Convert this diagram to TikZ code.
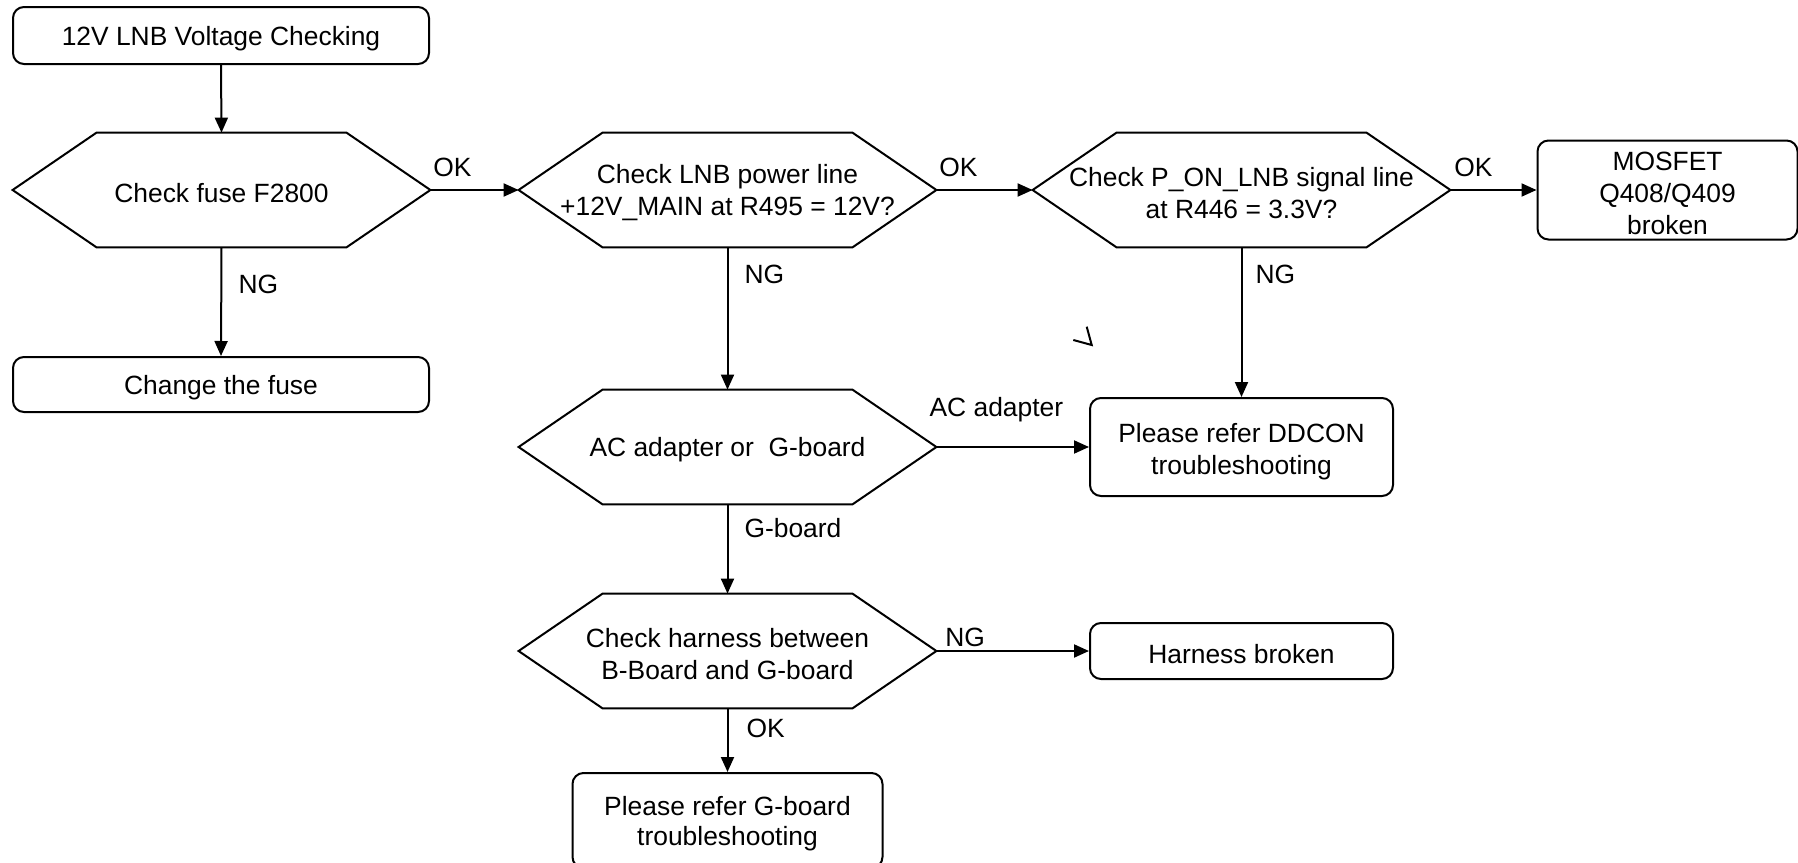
\documentclass[tikz,border=0pt]{standalone}
\usepackage{fontspec}
\setmainfont{Liberation Sans}
\usetikzlibrary{arrows.meta}
\newcommand\hexo[1]{\draw[line] (#1.west) -- ([xshift=42pt]#1.north west) -- ([xshift=-42pt]#1.north east) -- (#1.east) -- ([xshift=-42pt]#1.south east) -- ([xshift=42pt]#1.south west) -- cycle;}
\newcommand\ts{\rule{0pt}{12.6pt}}
\tikzset{
  line/.style={line width=1pt, line join=miter},
  txt/.style={font=\fontsize{13.2pt}{16pt}\selectfont, align=center, inner sep=0pt},
  rbox/.style={txt, draw, line width=1pt, rounded corners=5.5pt},
  hexa/.style={txt, minimum width=208.5pt, minimum height=57pt},
  arr/.style={line, -{Triangle[length=7.5pt,width=6.5pt]}},
  lbl/.style={font=\fontsize{13.2pt}{15pt}\selectfont, inner sep=0pt},
}
\begin{document}
\begin{tikzpicture}[x=0.5pt,y=-0.5pt]
\useasboundingbox (0,0) rectangle (1798,862);
% boxes
\node[rbox, minimum width=208pt, minimum height=28.5pt] (start) at (221,35.5) {\ts 12V LNB Voltage Checking};
\node[hexa] (h1) at (221.5,190) {\ts Check fuse F2800};
\node[hexa] (h2) at (727.5,190) {\ts Check LNB power line\\+12V\_MAIN at R495 = 12V?};
\node[hexa] (h3) at (1241.5,190) {\ts Check P\_ON\_LNB signal line\\at R446 = 3.3V?};
\node[rbox, minimum width=130pt, minimum height=49.5pt] (mos) at (1667.5,190) {\ts MOSFET\\Q408/Q409\\broken};
\node[rbox, minimum width=208pt, minimum height=27.5pt] (fuse) at (221,384.5) {\ts Change the fuse};
\node[hexa] (h4) at (727.5,447) {\ts AC adapter or\ \ G-board};
\node[rbox, minimum width=151.5pt, minimum height=49pt] (ddcon) at (1241.5,447) {\rule{0pt}{14pt}Please refer DDCON\\troubleshooting};
\node[hexa] (h5) at (727.5,651) {\ts Check harness between\\B-Board and G-board};
\node[rbox, minimum width=151.5pt, minimum height=28pt] (harn) at (1241.5,651) {\ts Harness broken};
\node[rbox, font=\fontsize{13.2pt}{15pt}\selectfont, minimum width=155pt, minimum height=47.5pt] (gb) at (727.5,820.5) {\ts Please refer G-board\\troubleshooting};
\hexo{h1}\hexo{h2}\hexo{h3}\hexo{h4}\hexo{h5}
% connectors
\draw[arr] (start.south) -- (h1.north);
\draw[arr] (h1.east) -- node[lbl, pos=0, anchor=base west, xshift=1pt, yshift=7pt] {OK} (h2.west);
\draw[arr] (h2.east) -- node[lbl, pos=0, anchor=base west, xshift=1pt, yshift=7pt] {OK} (h3.west);
\draw[arr] (h3.east) -- node[lbl, pos=0, anchor=base west, xshift=1.5pt, yshift=7pt] {OK} (mos.west);
\draw[arr] (h1.south) -- node[lbl, pos=0, anchor=base west, xshift=8pt, yshift=-23pt] {NG} (fuse.north);
\draw[arr] (h2.south) -- node[lbl, pos=0, anchor=base west, xshift=8pt, yshift=-18pt] {NG} (h4.north);
\draw[arr] (h3.south) -- node[lbl, pos=0, anchor=base west, xshift=6.5pt, yshift=-18pt] {NG} (ddcon.north);
\draw[arr] (h4.east) -- node[lbl, pos=0, anchor=base, xshift=30pt, yshift=15.5pt] {AC adapter} (ddcon.west);
\draw[arr] (h4.south) -- node[lbl, pos=0, anchor=base west, xshift=8pt, yshift=-16.5pt] {G-board} (h5.north);
\draw[arr] (h5.east) -- node[lbl, pos=0, anchor=base west, xshift=4pt, yshift=2.5pt] {NG} (harn.west);
\draw[arr] (h5.south) -- node[lbl, pos=0, anchor=base west, xshift=9pt, yshift=-14.5pt] {OK} (gb.north);
% stray mark
\draw[line] (1086.7,326.7) -- (1091.7,345) -- (1073.3,340);
\end{tikzpicture}
\end{document}
